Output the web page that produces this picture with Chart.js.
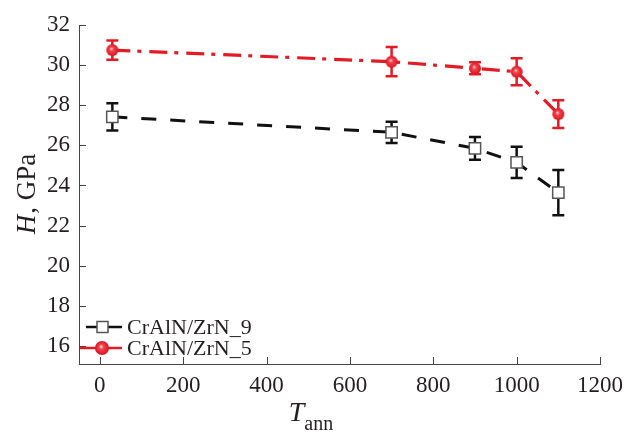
<!DOCTYPE html>
<html>
<head>
<meta charset="utf-8">
<script src="https://cdn.jsdelivr.net/npm/chart.js@4.4.1/dist/chart.umd.min.js"></script>
<style>
  html, body { margin: 0; padding: 0; background: #fff; }
  #wrap { width: 627px; height: 434px; }
</style>
</head>
<body>
<div id="wrap"><canvas id="chart"></canvas></div>
<script>
// annealing temperature vs hardness, two coatings
const temps = [30, 700, 900, 1000, 1100];
const hardness9 = [27.42, 26.65, 25.85, 25.15, 23.64];
const error9 = [0.68, 0.53, 0.57, 0.78, 1.13];
const hardness5 = [30.75, 30.17, 29.84, 29.67, 27.56];
const error5 = [0.48, 0.73, 0.3, 0.67, 0.69];
const seriesNames = ['CrAlN/ZrN_9', 'CrAlN/ZrN_5'];
const xTicks = [0, 200, 400, 600, 800, 1000, 1200];
const yTicks = [16, 18, 20, 22, 24, 26, 28, 30, 32];

const SERIF = '"Liberation Serif", "DejaVu Serif", serif';
const RED = '#e31b25';
const INK = '#231f20';

function makeBall(r) {
  const c = document.createElement('canvas');
  c.width = c.height = 2 * r + 2;
  const g = c.getContext('2d');
  const m = r + 1;
  const grad = g.createRadialGradient(m - 1, m - 1.5, 0.3, m, m, r);
  grad.addColorStop(0, '#fbd3d6');
  grad.addColorStop(0.3, '#ef4750');
  grad.addColorStop(1, '#dd121d');
  g.fillStyle = grad;
  g.beginPath();
  g.arc(m, m, r, 0, Math.PI * 2);
  g.fill();
  return c;
}
const ball = makeBall(6);
const legendBall = makeBall(7);

function pairs(ys) {
  return temps.map((t, i) => ({ x: t, y: ys[i] }));
}

// vertical error bars with caps, drawn under the markers
const errorBars = {
  id: 'errorBars',
  beforeDatasetsDraw(chart) {
    const { ctx, scales: { x, y } } = chart;
    chart.data.datasets.forEach(ds => {
      ctx.save();
      ctx.strokeStyle = ds.barColor;
      ctx.lineWidth = 2.5;
      ds.data.forEach((p, i) => {
        const px = x.getPixelForValue(p.x);
        const top = y.getPixelForValue(p.y + ds.errors[i]);
        const bot = y.getPixelForValue(p.y - ds.errors[i]);
        ctx.beginPath();
        ctx.moveTo(px, top); ctx.lineTo(px, bot);
        ctx.moveTo(px - 6, top); ctx.lineTo(px + 6, top);
        ctx.moveTo(px - 6, bot); ctx.lineTo(px + 6, bot);
        ctx.stroke();
      });
      ctx.restore();
    });
  }
};

// inward tick marks, axis titles and the legend box
const frame = {
  id: 'frame',
  afterDraw(chart) {
    const { ctx, chartArea: a, scales: { x, y } } = chart;
    ctx.save();
    ctx.strokeStyle = '#444';
    ctx.lineWidth = 1;
    ctx.beginPath();
    xTicks.forEach(v => {
      const px = Math.round(x.getPixelForValue(v)) + 0.5;
      ctx.moveTo(px, a.bottom); ctx.lineTo(px, a.bottom - 7);
    });
    yTicks.forEach(v => {
      const py = Math.round(y.getPixelForValue(v)) + 0.5;
      ctx.moveTo(a.left, py); ctx.lineTo(a.left + 7, py);
    });
    ctx.stroke();

    // y title: italic H, then ", GPa"
    ctx.fillStyle = INK;
    ctx.textBaseline = 'alphabetic';
    ctx.save();
    ctx.translate(35, (a.top + a.bottom) / 2);
    ctx.rotate(-Math.PI / 2);
    ctx.font = 'italic 27px ' + SERIF;
    const wH = ctx.measureText('H').width;
    ctx.font = '27px ' + SERIF;
    const wRest = ctx.measureText(', GPa').width;
    let sx = -(wH + wRest) / 2;
    ctx.font = 'italic 27px ' + SERIF;
    ctx.fillText('H', sx, 0);
    ctx.font = '27px ' + SERIF;
    ctx.fillText(', GPa', sx + wH + 1, 0);
    ctx.restore();

    // x title: italic T with subscript "ann"
    ctx.font = 'italic 28px ' + SERIF;
    const wT = ctx.measureText('T').width;
    ctx.font = '20px ' + SERIF;
    const wSub = ctx.measureText('ann').width;
    sx = 311 - (wT + wSub) / 2;
    ctx.font = 'italic 28px ' + SERIF;
    ctx.fillText('T', sx, 421);
    ctx.font = '20px ' + SERIF;
    ctx.fillText('ann', sx + wT, 430);

    // legend
    const rows = [327, 348];
    chart.data.datasets.forEach((ds, i) => {
      const ly = rows[i];
      ctx.save();
      ctx.strokeStyle = ds.borderColor;
      ctx.lineWidth = 2.5;
      ctx.beginPath();
      ctx.moveTo(i === 0 ? 86 : 80, ly); ctx.lineTo(122, ly);
      ctx.stroke();
      if (i === 0) {
        ctx.fillStyle = '#fff';
        ctx.strokeStyle = '#555';
        ctx.lineWidth = 1.5;
        ctx.fillRect(97, ly - 5.5, 11, 11);
        ctx.strokeRect(97, ly - 5.5, 11, 11);
      } else {
        ctx.drawImage(legendBall, 102 - legendBall.width / 2, ly - legendBall.height / 2);
      }
      ctx.restore();
      ctx.fillStyle = INK;
      ctx.font = '22px ' + SERIF;
      ctx.textBaseline = 'middle';
      ctx.fillText(ds.label, 127, ly + 1);
    });
    ctx.restore();
  }
};

new Chart(document.getElementById('chart'), {
  type: 'line',
  data: {
    datasets: [
      {
        label: seriesNames[0],
        data: pairs(hardness9),
        errors: error9,
        barColor: '#111',
        borderColor: '#111',
        borderWidth: 3,
        borderDash: [15, 14],
        pointStyle: 'rect',
        pointRadius: 8,
        pointBackgroundColor: '#fff',
        pointBorderColor: '#555',
        pointBorderWidth: 1.5,
        tension: 0
      },
      {
        label: seriesNames[1],
        data: pairs(hardness5),
        errors: error5,
        barColor: RED,
        borderColor: RED,
        borderWidth: 3.2,
        borderDash: [18, 7, 4, 8],
        pointStyle: ball,
        pointRadius: 6,
        tension: 0
      }
    ]
  },
  options: {
    responsive: true,
    maintainAspectRatio: false,
    animation: false,
    layout: { padding: { top: 25, right: 27, left: 0, bottom: 0 } },
    plugins: {
      legend: { display: false },
      tooltip: { enabled: false }
    },
    scales: {
      x: {
        type: 'linear',
        min: -50,
        max: 1200,
        afterBuildTicks: s => { s.ticks = xTicks.map(v => ({ value: v })); },
        afterFit: s => { s.height = 70; s.paddingLeft = 0; s.paddingRight = 0; },
        grid: { display: false, drawTicks: false },
        border: { display: true, color: '#444', width: 1 },
        ticks: {
          autoSkip: false,
          maxRotation: 0,
          padding: 8,
          color: INK,
          font: { family: SERIF, size: 23 },
          callback: v => String(v)
        }
      },
      y: {
        type: 'linear',
        min: 15.1,
        max: 32,
        afterBuildTicks: s => { s.ticks = yTicks.map(v => ({ value: v })); },
        afterFit: s => { s.width = 79; s.paddingTop = 0; s.paddingBottom = 0; },
        grid: { display: false, drawTicks: false },
        border: { display: true, color: '#444', width: 1 },
        ticks: {
          autoSkip: false,
          padding: 9,
          color: INK,
          font: { family: SERIF, size: 23 },
          callback: v => String(v)
        }
      }
    }
  },
  plugins: [errorBars, frame]
});
</script>
</body>
</html>
